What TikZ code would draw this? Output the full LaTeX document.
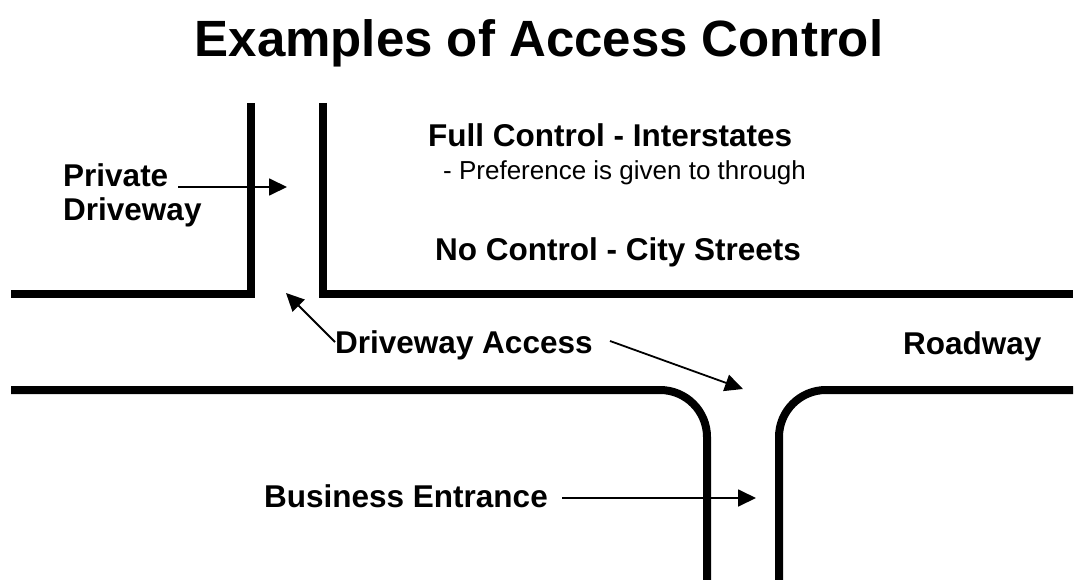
\documentclass[tikz,border=0pt]{standalone}
\usepackage{fontspec}
\setmainfont{Liberation Sans}
\usetikzlibrary{arrows.meta}
\tikzset{
  road/.style={line width=8pt, line cap=butt, line join=miter},
  curb/.style={line width=8pt, line cap=butt, rounded corners=47pt},
  pointer/.style={line width=1.8pt, -{Triangle[length=18pt,width=17pt]}},
  lbl/.style={font=\fontsize{31.5}{36}\selectfont\bfseries, inner sep=0pt, anchor=base west},
  sublbl/.style={font=\fontsize{26}{30}\selectfont, inner sep=0pt, anchor=base west},
  ttl/.style={font=\fontsize{51}{60}\selectfont\bfseries, inner sep=0pt, anchor=base}
}
\begin{document}
\begin{tikzpicture}[x=1pt,y=-1pt]
\useasboundingbox (0,0) rectangle (1083,580);
% title
\node[ttl] (title) at (539,57) {Examples of Access Control};
% roads
\draw[road] (11,294) -- (251,294) -- (251,103);
\draw[road] (323,103) -- (323,294) -- (1073,294);
\draw[curb] (11,390) -| (707,581);
\draw[curb] (1073,390) -| (779,581);
% labels
\node[lbl] (priv) at (63,186) {Private};
\node[lbl] (drv) at (63,220) {Driveway};
\node[lbl] (full) at (428,147) {Full Control - Interstates};
\node[sublbl] (pref) at (443,179) {- Preference is given to through};
\node[lbl] (noc) at (435,260) {No Control - City Streets};
\node[lbl] (acc) at (335,353) {Driveway Access};
\node[lbl] (road) at (903,354) {Roadway};
\node[lbl] (bus) at (264,507) {Business Entrance};
% arrow endpoints
\coordinate (privS) at (178,187);
\coordinate (privT) at (287,187);
\coordinate (accLS) at (335,342);
\coordinate (accLT) at (286,293);
\coordinate (accRS) at (610,341);
\coordinate (accRT) at (743,389);
\coordinate (busS) at (562,498);
\coordinate (busT) at (756,498);
\draw[pointer] (privS) -- (privT);
\draw[pointer] (accLS) -- (accLT);
\draw[pointer] (accRS) -- (accRT);
\draw[pointer] (busS) -- (busT);
\end{tikzpicture}
\end{document}
